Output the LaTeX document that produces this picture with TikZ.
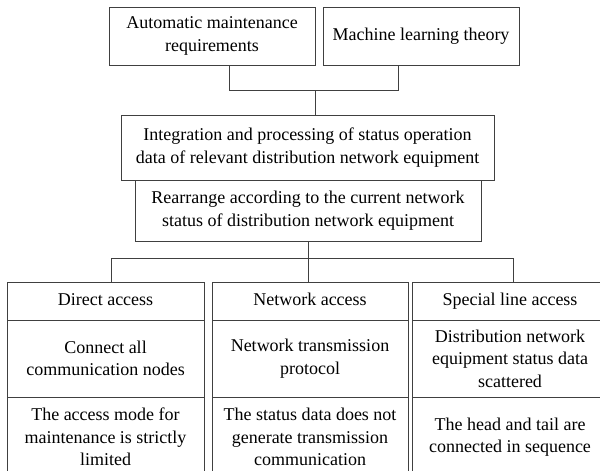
\documentclass[tikz,border=0pt]{standalone}
\usepackage{fontspec}
\setmainfont{Liberation Serif}
\usepackage{tikz}
\usetikzlibrary{calc}

\tikzset{
	box/.style = {draw=black!75, line width=0.8pt, rectangle, align=center, inner sep=0pt, font=\fontsize{18}{22.5}\selectfont},
	headbox/.style = {box, text height=12.5pt, text depth=4pt},
	link/.style = {draw=black!75, line width=0.8pt}
}

\begin{document}
\begin{tikzpicture}[x=1pt, y=-1pt]
			\def\colW{196};
			\def\headH{38};
			\def\midH{77};
			\def\lowH{80};

			\useasboundingbox (0,0) rectangle (600,471);
			\clip (0,0) rectangle (600,471);

			\begin{scope}
				\node [box, minimum width=206, minimum height=58] (auto) at (212,36) {Automatic maintenance\\requirements};
				\node [box, minimum width=196, minimum height=58] (mlt) at (421,36) {Machine learning theory};

				\node [box, minimum width=373, minimum height=65] (integ) at (307.5,147.5) {Integration and processing of status operation\\data of relevant distribution network equipment};
				\node [box, minimum width=346, minimum height=61] (rearr) at (308,210.5) {Rearrange according to the current network\\status of distribution network equipment};
			\end{scope}

			\begin{scope}
				\node [headbox, minimum width=197, minimum height=\headH] (dirhead) at (105.5,301) {Direct access};
				\node [headbox, minimum width=\colW, minimum height=\headH] (nethead) at (310,301) {Network access};
				\node [headbox, minimum width=\colW, minimum height=\headH] (spehead) at (510,301) {Special line access};

				\node [box, minimum width=197, minimum height=\midH] (dirmid) at (105.5,358.5) {Connect all\\communication nodes};
				\node [box, minimum width=\colW, minimum height=\midH] (netmid) at (310,358.5) {Network transmission\\protocol};
				\node [box, minimum width=\colW, minimum height=\midH] (spemid) at (510,358.5) {Distribution network\\equipment status data\\scattered};

				\node [box, minimum width=197, minimum height=\lowH] (dirlow) at (105.5,437) {The access mode for\\maintenance is strictly\\limited};
				\node [box, minimum width=\colW, minimum height=\lowH] (netlow) at (310,437) {The status data does not\\generate transmission\\communication};
				\node [box, minimum width=\colW, minimum height=\lowH] (spelow) at (510,437) {The head and tail are\\connected in sequence};
			\end{scope}

			\begin{scope}
				\draw [link] ([xshift=17]auto.south) -- ++(0,25) coordinate (topbar) -| ([xshift=-23]mlt.south);
				\coordinate (join) at (315,90);
				\draw [link] (join) -- (join |- integ.north);

				\draw [link] (rearr.south) -- (rearr.south |- nethead.north);
				\draw [link] ([xshift=5.5]dirhead.north) -- ++(0,-23) -| ([xshift=3]spehead.north);
			\end{scope}
		\end{tikzpicture}
\end{document}
